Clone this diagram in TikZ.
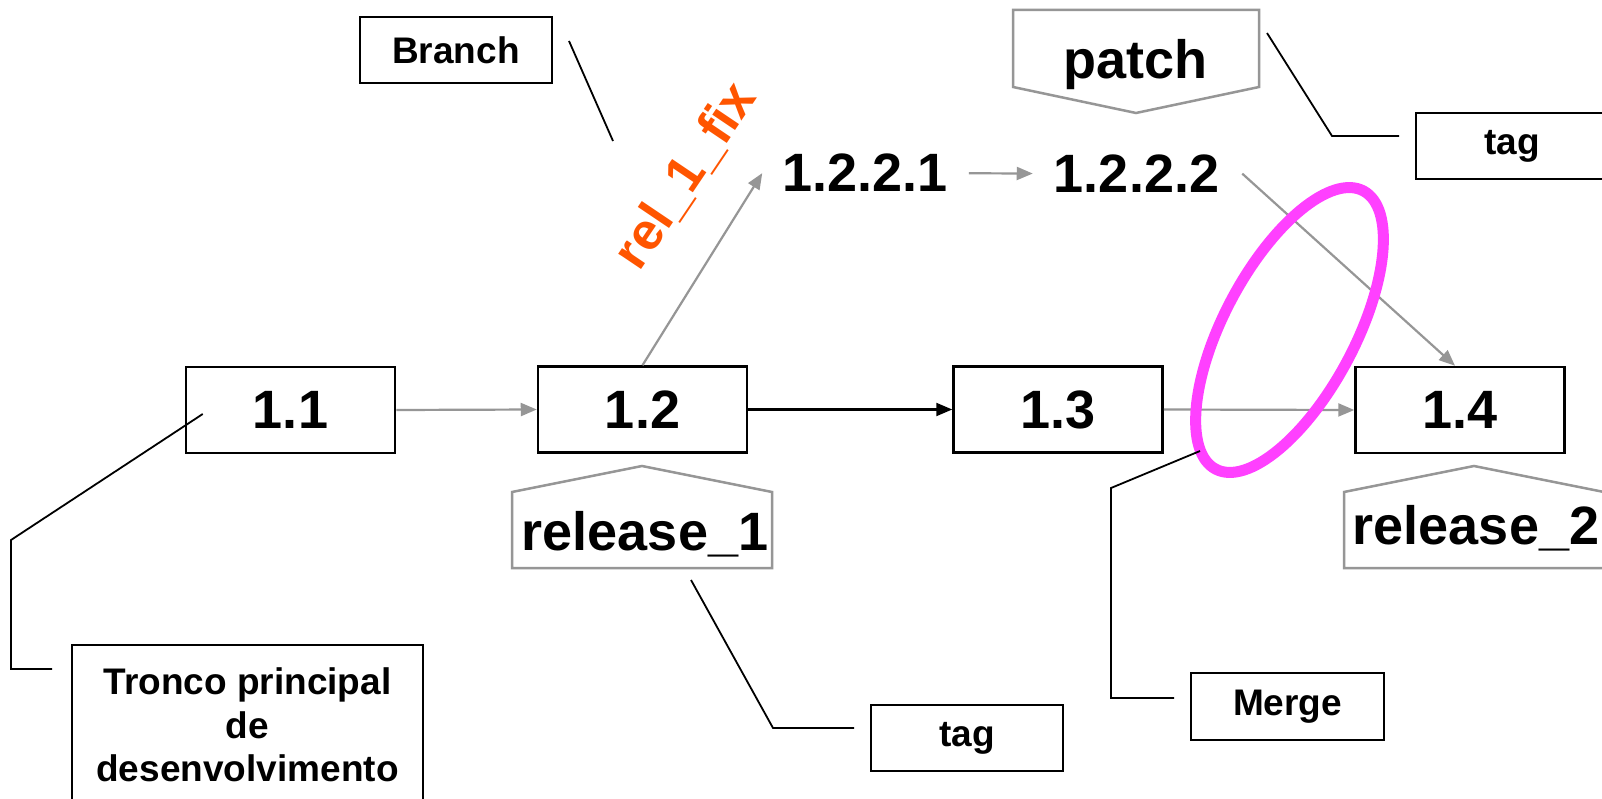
\documentclass[tikz,border=0pt]{standalone}
\usepackage{fontspec}
\setmainfont{Liberation Sans}
\usetikzlibrary{arrows.meta}

\definecolor{flowgray}{RGB}{150,150,150}
\definecolor{fixorange}{RGB}{255,85,0}
\definecolor{mergepink}{RGB}{255,64,255}

\begin{document}
\begin{tikzpicture}[x=1pt,y=-1pt,
  vbox/.style={draw=black, line width=2.5pt, minimum width=209pt, minimum height=86pt,
    inner sep=0pt, font=\fontsize{54}{60}\selectfont\bfseries},
  bignum/.style={inner sep=0pt, anchor=base, font=\fontsize{54}{60}\selectfont\bfseries},
  note/.style={draw=black, line width=2pt, minimum width=192pt, minimum height=66pt,
    inner sep=0pt, align=center, font=\fontsize{37}{43.5}\selectfont\bfseries},
  tagshape/.style={draw=flowgray, line width=2.5pt, line join=miter},
  tip/.style={-{Triangle[length=16pt,width=13pt]}},
  flow/.style={draw=flowgray, line width=2.2pt, tip},
  mainflow/.style={draw=black, line width=2.2pt, tip},
  leader/.style={draw=black, line width=1.8pt},
]
\useasboundingbox (0,0) rectangle (1602,799);
\fill[white] (0,0) rectangle (1602,799);
\clip (0,0) rectangle (1602,799);

% revisions on the main trunk
\node[vbox] (v11) at (290.5,410) {1.1};
\node[vbox] (v12) at (642.5,409.5) {1.2};
\node[vbox] (v13) at (1058,409.5) {1.3};
\node[vbox] (v14) at (1460,410) {1.4};

% revisions on the branch
\node[bignum] (b1) at (865,192) {1.2.2.1};
\node[bignum] (b2) at (1136.5,192.5) {1.2.2.2};

% branch name
\node[rotate=56, text=fixorange, inner sep=0pt,
      font=\fontsize{52}{56}\selectfont\bfseries] (fixlbl) at (686,176) {rel\_1\_fix};

% tag flags
\draw[tagshape] (512,492) -- (642,466) -- (772,492) -- (772,568) -- (512,568) -- cycle;
\node[bignum] (rel1) at (645,550) {release\_1};
\draw[tagshape] (1344,492) -- (1474,466) -- (1604,492) -- (1604,568) -- (1344,568) -- cycle;
\node[bignum] (rel2) at (1476,544) {release\_2};
\draw[tagshape] (1013,10) -- (1259,10) -- (1259,87) -- (1136,113) -- (1013,87) -- cycle;
\node[bignum] (patch) at (1135,79) {patch};

% callout boxes
\node[note] (branch) at (456,50) {Branch};
\node[note] (tagtop) at (1512,146) {tag};
\node[note] (tagbot) at (967,738) {tag};
\node[note, minimum width=193pt, minimum height=67pt] (merge) at (1287.5,706.5) {Merge};
\node[note, minimum width=351pt, minimum height=160pt] (tronco) at (247.5,725)
  {Tronco principal\\de\\desenvolvimento};

% history arrows
\draw[flow] (v11.east) -- (v12.west);
\draw[mainflow] (v12.east) -- (v13.west);
\draw[flow] (v13.east) -- (v14.west);
\draw[flow] (v12.north) -- ([xshift=-20pt]b1.west);
\draw[flow, shorten <=21pt, shorten >=21pt] (b1.east) -- (b2.west);
\draw[flow] ([xshift=23pt]b2.east) -- ([xshift=-5pt]v14.north);

% merge highlight
\draw[mergepink, line width=11pt, rotate around={62:(1289.5,330)}]
  (1289.5,330) ellipse [x radius=157.5, y radius=65.5];

% callout leaders
\coordinate (branchpt) at (613,141);
\coordinate (patchpt) at (1267,33);
\coordinate (rel1pt) at (691,580);
\coordinate (mergept) at (1200,451);
\draw[leader] ([shift={(16,-9)}]branch.east) -- (branchpt);
\draw[leader] (patchpt) -- ([shift={(-83,-10)}]tagtop.west) -- ([shift={(-16,-10)}]tagtop.west);
\draw[leader] (rel1pt) -- ([shift={(-97,-10)}]tagbot.west) -- ([shift={(-16,-10)}]tagbot.west);
\draw[leader] (mergept) -- ([shift={(-79,-218.5)}]merge.west) -- ([shift={(-79,-8.5)}]merge.west)
  -- ([shift={(-16,-8.5)}]merge.west);
\draw[leader] ([shift={(18,4)}]v11.west) -- ([shift={(-60,-104)}]tronco.north west)
  -- ([shift={(-60,25)}]tronco.north west) -- ([shift={(-19,25)}]tronco.north west);
\end{tikzpicture}
\end{document}
